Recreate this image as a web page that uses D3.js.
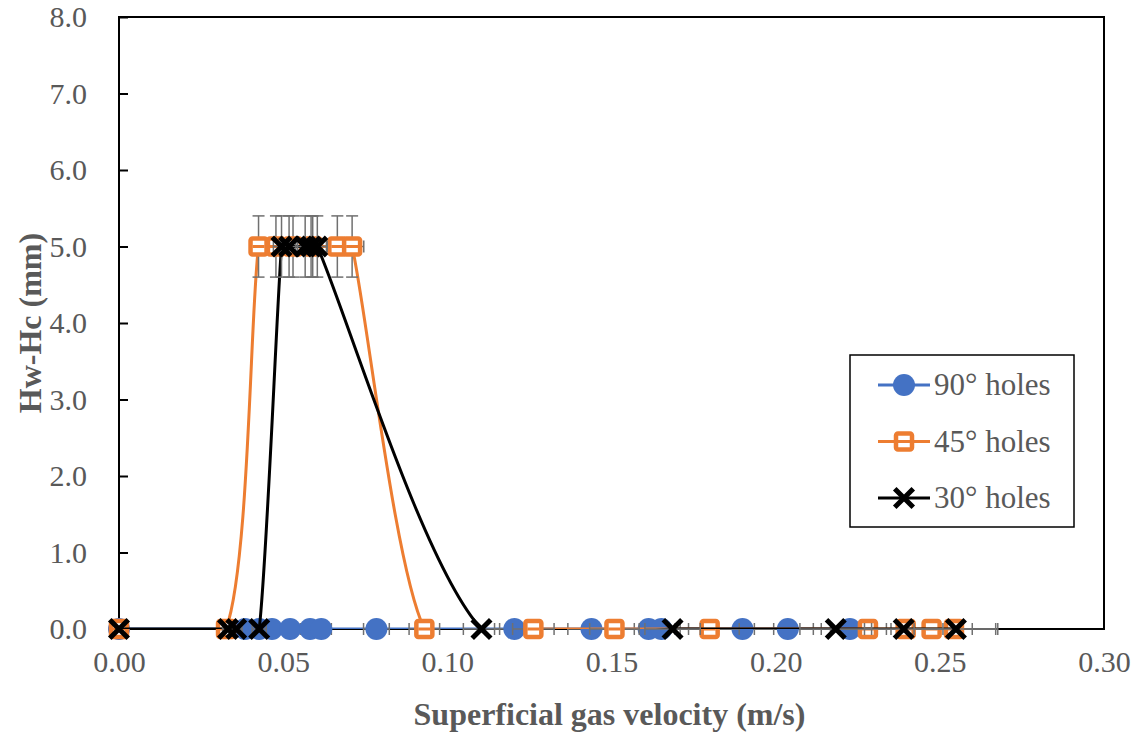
<!DOCTYPE html>
<html>
<head>
<meta charset="utf-8">
<script src="https://cdn.jsdelivr.net/npm/d3@7"></script>
<style>
  body { margin: 0; background: #fff; }
  text { font-family: "Liberation Serif", "Times New Roman", serif; fill: #595959; }
</style>
</head>
<body>
<div id="chart"></div>
<script>
// values
var x90 = [0, 0.0384, 0.0427, 0.0466, 0.0521, 0.0582, 0.0616, 0.0784, 0.1204, 0.1439, 0.1613, 0.1652, 0.1899, 0.2037, 0.2226];
var y90 = [0, 0, 0, 0, 0, 0, 0, 0, 0, 0, 0, 0, 0, 0, 0];
var x45 = [0, 0.0326, 0.0425, 0.0478, 0.0530, 0.0590, 0.0665, 0.0710, 0.0930, 0.1262, 0.1509, 0.1799, 0.2281, 0.2396, 0.2475, 0.2543];
var y45 = [0, 0, 5, 5, 5, 5, 5, 5, 0, 0, 0, 0, 0, 0, 0, 0];
var x30 = [0, 0.0332, 0.0357, 0.0427, 0.0495, 0.0518, 0.0567, 0.0585, 0.0604, 0.1104, 0.1686, 0.2183, 0.2390, 0.2549];
var y30 = [0, 0, 0, 0, 5, 5, 5, 5, 5, 0, 0, 0, 0, 0];
var seriesNames = ["90° holes", "45° holes", "30° holes"];
var xTicks = [0, 0.05, 0.10, 0.15, 0.20, 0.25, 0.30];
var yTicks = [0, 1, 2, 3, 4, 5, 6, 7, 8];
var xErrPct = 0.05;   // horizontal error bars, % of x
var yErrPct = 0.08;   // vertical error bars, % of y

var W = 1140, H = 735;
var margin = {top: 17, right: 36, bottom: 106, left: 119};
var width = W - margin.left - margin.right;
var height = H - margin.top - margin.bottom;

var svg = d3.select("#chart").append("svg")
    .attr("width", W)
    .attr("height", H);

var x = d3.scaleLinear().domain([0, 0.30]).range([0, width]);
var y = d3.scaleLinear().domain([0, 8]).range([height, 0]);

var g = svg.append("g")
    .attr("transform", "translate(" + margin.left + "," + margin.top + ")");

g.append("clipPath").attr("id", "plotclip")
    .append("rect")
    .attr("x", 0).attr("y", 0)
    .attr("width", width).attr("height", height);

// axes
var yAxis = d3.axisLeft(y).tickValues(yTicks).tickSize(-9).tickPadding(32)
    .tickFormat(d3.format(".1f"));
var yg = g.append("g").call(yAxis);
yg.select(".domain").remove();
yg.selectAll("line").attr("stroke", "#000").attr("stroke-width", 2);
yg.selectAll("text").style("font-size", "30px").attr("fill", "#595959")
    .style("font-family", "'Liberation Serif', serif");

var xAxis = d3.axisBottom(x).tickValues(xTicks).tickSize(0).tickPadding(22)
    .tickFormat(d3.format(".2f"));
var xg = g.append("g").attr("transform", "translate(0," + height + ")").call(xAxis);
xg.select(".domain").remove();
xg.selectAll("text").style("font-size", "30px").attr("fill", "#595959")
    .style("font-family", "'Liberation Serif', serif");

// frame
g.append("rect")
    .attr("x", 0).attr("y", 0)
    .attr("width", width).attr("height", height)
    .attr("fill", "none")
    .attr("stroke", "#000")
    .attr("stroke-width", 2);

// titles
svg.append("text")
    .attr("x", margin.left + width / 2 - 2)
    .attr("y", 725)
    .attr("text-anchor", "middle")
    .style("font-size", "32px")
    .style("font-weight", "bold")
    .text("Superficial gas velocity (m/s)");

svg.append("text")
    .attr("transform", "translate(41," + (margin.top + height / 2) + ") rotate(-90)")
    .attr("text-anchor", "middle")
    .style("font-size", "32px")
    .style("font-weight", "bold")
    .text("Hw-Hc (mm)");

// Excel-like smoothed line: bezier with 1/6 tangents, control arm capped at half the segment
function ExcelSmooth(context) { this._context = context; }
ExcelSmooth.prototype = {
    areaStart: function() {},
    areaEnd: function() {},
    lineStart: function() { this._pts = []; },
    point: function(px, py) { this._pts.push([+px, +py]); },
    lineEnd: function() {
        var p = this._pts, c = this._context, n = p.length;
        if (!n) return;
        function dist(a, b) { return Math.sqrt((a[0] - b[0]) * (a[0] - b[0]) + (a[1] - b[1]) * (a[1] - b[1])); }
        c.moveTo(p[0][0], p[0][1]);
        for (var i = 0; i < n - 1; i++) {
            var p0 = p[Math.max(i - 1, 0)], p1 = p[i], p2 = p[i + 1], p3 = p[Math.min(i + 2, n - 1)];
            var d12 = dist(p1, p2), d02 = dist(p0, p2), d13 = dist(p1, p3);
            var f1 = 1 / 6, f2 = 1 / 6;
            if (d02 / 6 > d12 / 2) f1 = d12 / (2 * d02);
            if (d13 / 6 > d12 / 2) f2 = d12 / (2 * d13);
            c.bezierCurveTo(
                p1[0] + (p2[0] - p0[0]) * f1, p1[1] + (p2[1] - p0[1]) * f1,
                p2[0] - (p3[0] - p1[0]) * f2, p2[1] - (p3[1] - p1[1]) * f2,
                p2[0], p2[1]);
        }
    }
};

var series = [
    {name: seriesNames[0], xs: x90, ys: y90, color: "#4472C4", marker: "circle"},
    {name: seriesNames[1], xs: x45, ys: y45, color: "#ED7D31", marker: "square"},
    {name: seriesNames[2], xs: x30, ys: y30, color: "#000000", marker: "cross"}
];

var line = d3.line()
    .x(function(d) { return x(d[0]); })
    .y(function(d) { return y(d[1]); })
    .curve(function(ctx) { return new ExcelSmooth(ctx); });

function drawMarker(sel, type, color) {
    if (type === "circle") {
        sel.append("circle").attr("r", 11).attr("fill", color);
    } else if (type === "square") {
        sel.append("rect")
            .attr("x", -8).attr("y", -8).attr("width", 16).attr("height", 16)
            .attr("rx", 2)
            .attr("fill", "#fff")
            .attr("stroke", color)
            .attr("stroke-width", 4.5);
        sel.append("line")
            .attr("x1", -6).attr("x2", 6)
            .attr("stroke", color).attr("stroke-width", 3);
    } else {
        sel.append("path")
            .attr("d", "M-7.5,-7.5L7.5,7.5M-7.5,7.5L7.5,-7.5")
            .attr("stroke", color)
            .attr("stroke-width", 5)
            .attr("stroke-linecap", "square");
    }
}

var plot = g.append("g");

series.forEach(function(s) {
    var pts = s.xs.map(function(v, i) { return [v, s.ys[i]]; });

    plot.append("path")
        .datum(pts)
        .attr("clip-path", "url(#plotclip)")
        .attr("fill", "none")
        .attr("stroke", s.color)
        .attr("stroke-width", 3)
        .attr("d", line);

    // error bars
    var eb = plot.append("g").attr("stroke", "#707070").attr("stroke-width", 1.5);
    pts.forEach(function(p) {
        var xl = x(p[0] * (1 - xErrPct)), xr = x(p[0] * (1 + xErrPct)), yc = y(p[1]);
        if (xr - xl > 0.5) {
            eb.append("line").attr("x1", xl).attr("x2", xr).attr("y1", yc).attr("y2", yc);
            eb.append("line").attr("x1", xl).attr("x2", xl).attr("y1", yc - 6).attr("y2", yc + 6);
            eb.append("line").attr("x1", xr).attr("x2", xr).attr("y1", yc - 6).attr("y2", yc + 6);
        }
        var yt = y(p[1] * (1 + yErrPct)), yb = y(p[1] * (1 - yErrPct)), xc = x(p[0]);
        if (yb - yt > 0.5) {
            eb.append("line").attr("x1", xc).attr("x2", xc).attr("y1", yt).attr("y2", yb);
            eb.append("line").attr("x1", xc - 6).attr("x2", xc + 6).attr("y1", yt).attr("y2", yt);
            eb.append("line").attr("x1", xc - 6).attr("x2", xc + 6).attr("y1", yb).attr("y2", yb);
        }
    });

    plot.selectAll(null)
        .data(pts)
        .enter()
        .append("g")
        .attr("transform", function(d) { return "translate(" + x(d[0]) + "," + y(d[1]) + ")"; })
        .each(function() { drawMarker(d3.select(this), s.marker, s.color); });
});

// legend
var legend = svg.append("g").attr("transform", "translate(850,355)");
legend.append("rect")
    .attr("width", 224).attr("height", 172)
    .attr("fill", "#fff")
    .attr("stroke", "#000")
    .attr("stroke-width", 1.5);

series.forEach(function(s, i) {
    var row = legend.append("g").attr("transform", "translate(0," + (30 + i * 56.5) + ")");
    row.append("line")
        .attr("x1", 28).attr("x2", 80)
        .attr("stroke", s.color).attr("stroke-width", 3);
    var m = row.append("g").attr("transform", "translate(54,0)");
    drawMarker(m, s.marker, s.color);
    row.append("text")
        .attr("x", 84).attr("y", 10)
        .style("font-size", "31px")
        .text(s.name);
});
</script>
</body>
</html>
